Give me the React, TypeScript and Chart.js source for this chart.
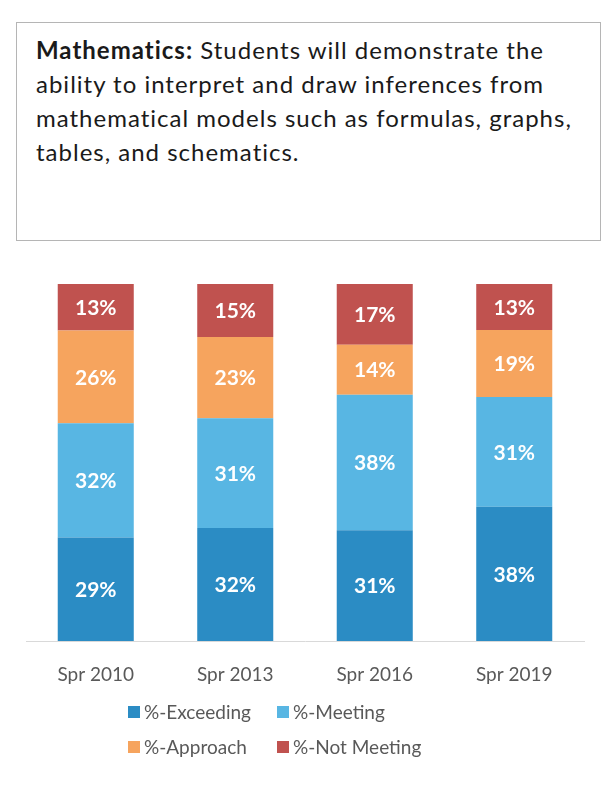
import React, { useEffect, useRef } from "react";
import { Chart, registerables } from "chart.js";

Chart.register(...registerables);

const categories = ["Spr 2010", "Spr 2013", "Spr 2016", "Spr 2019"];
const seriesNames = ["%-Exceeding", "%-Meeting", "%-Approach", "%-Not Meeting"];
const exceeding = [29, 32, 31, 38];
const meeting = [32, 31, 38, 31];
const approach = [26, 23, 14, 19];
const notMeeting = [13, 15, 17, 13];
const seriesColors = ["#2b8cc4", "#58b6e3", "#f6a45e", "#c0524f"];

const FONT = "Lato, 'Open Sans', sans-serif";

const rawSeries = [exceeding, meeting, approach, notMeeting];
const totals = categories.map((_, i) => rawSeries.reduce((s, arr) => s + arr[i], 0));

const labelPlugin = {
  id: "segLabels",
  afterDatasetsDraw(chart: any) {
    const ctx = chart.ctx;
    ctx.save();
    ctx.font = `bold 21px ${FONT}`;
    ctx.fillStyle = "#ffffff";
    ctx.textAlign = "center";
    ctx.textBaseline = "middle";
    chart.data.datasets.forEach((ds: any, di: number) => {
      const meta = chart.getDatasetMeta(di);
      meta.data.forEach((el: any, i: number) => {
        const { x, y, base } = el.getProps(["x", "y", "base"], true);
        ctx.fillText(ds.raw[i] + "%", x, (y + base) / 2 + 1);
      });
    });
    ctx.restore();
  },
};

const legendPlugin = {
  id: "gridLegend",
  afterDraw(chart: any) {
    const ctx = chart.ctx;
    const area = chart.chartArea;
    const cx = (area.left + area.right) / 2;
    const colX = [cx - 177, cx - 28];
    const rowY = [area.bottom + 71, area.bottom + 106];
    ctx.save();
    ctx.font = `19px ${FONT}`;
    ctx.textBaseline = "middle";
    ctx.textAlign = "left";
    chart.data.datasets.forEach((ds: any, i: number) => {
      const bx = colX[i % 2];
      const by = rowY[Math.floor(i / 2)];
      ctx.fillStyle = ds.backgroundColor;
      ctx.fillRect(bx, by - 6, 12, 12);
      ctx.fillStyle = "#595959";
      ctx.fillText(ds.label, bx + 16, by + 1);
    });
    ctx.restore();
  },
};

export default function App() {
  const canvasRef = useRef<HTMLCanvasElement | null>(null);

  useEffect(() => {
    if (!canvasRef.current) return;
    const chart = new Chart(canvasRef.current, {
      type: "bar",
      data: {
        labels: categories,
        datasets: rawSeries.map((arr, si) => ({
          label: seriesNames[si],
          raw: arr,
          data: arr.map((v, i) => (v / totals[i]) * 100),
          backgroundColor: seriesColors[si],
          borderWidth: 0,
          categoryPercentage: 1,
          barPercentage: 0.545,
        })) as any,
      },
      options: {
        animation: false,
        responsive: false,
        maintainAspectRatio: false,
        layout: { padding: { top: 34, bottom: 95, left: 26, right: 25 } },
        plugins: {
          legend: { display: false },
          tooltip: { enabled: false },
        },
        scales: {
          x: {
            stacked: true,
            grid: { display: false, drawTicks: false },
            border: { display: true, color: "#d9d9d9", width: 1 },
            ticks: {
              color: "#595959",
              font: { family: FONT, size: 19 },
              padding: 22,
            },
            afterFit: (scale: any) => {
              scale.height = 50;
            },
          },
          y: {
            stacked: true,
            display: false,
            min: 0,
            max: 100,
          },
        },
      },
      plugins: [labelPlugin, legendPlugin],
    });
    return () => chart.destroy();
  }, []);

  return (
    <div
      style={{
        position: "absolute",
        left: 0,
        top: 0,
        width: 609,
        height: 786,
        background: "#ffffff",
        overflow: "hidden",
      }}
    >
      <div
        style={{
          position: "absolute",
          left: 16,
          top: 22,
          width: 583,
          height: 217,
          border: "1px solid #b5b5b5",
          boxSizing: "content-box",
        }}
      >
        <div
          style={{
            position: "absolute",
            left: 19,
            top: 10,
            fontFamily: FONT,
            fontSize: 24,
            lineHeight: "34px",
            letterSpacing: "1px",
            color: "#1a1a1a",
            whiteSpace: "nowrap",
          }}
        >
          <b>Mathematics:</b> Students will demonstrate the
          <br />
          ability to interpret and draw inferences from
          <br />
          mathematical models such as formulas, graphs,
          <br />
          tables, and schematics.
        </div>
      </div>
      <canvas
        ref={canvasRef}
        width={609}
        height={536}
        style={{ position: "absolute", left: 0, top: 250, width: 609, height: 536 }}
      />
    </div>
  );
}
